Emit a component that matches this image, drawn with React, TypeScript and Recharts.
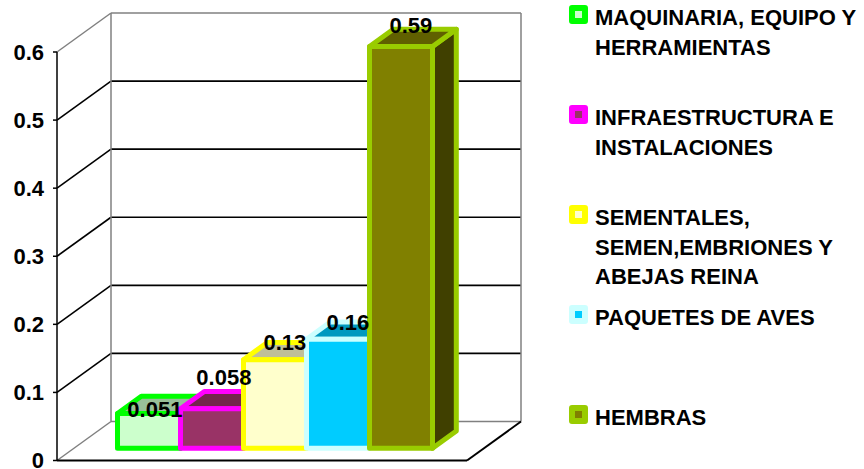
import { Bar, BarChart, CartesianGrid, LabelList, ReferenceArea, XAxis, YAxis } from "recharts";

const categories = ["Total"];
const seriesNames = [
  "MAQUINARIA, EQUIPO Y\nHERRAMIENTAS",
  "INFRAESTRUCTURA E\nINSTALACIONES",
  "SEMENTALES,\nSEMEN,EMBRIONES Y\nABEJAS REINA",
  "PAQUETES DE AVES",
  "HEMBRAS",
];
const seriesValues = [0.051, 0.058, 0.13, 0.16, 0.59];
const yTicks = [0, 0.1, 0.2, 0.3, 0.4, 0.5, 0.6];

const strokeColors = ["#00FF00", "#FF00FF", "#FFFF00", "#CCFFFF", "#99CC00"];
const fillColors = ["#CCFFCC", "#993366", "#FFFFCC", "#00CCFF", "#808000"];
// Excel moves some value labels around to keep them apart
const labelNudgeX = [-6, 0, -2, -2, -2];
const labelNudgeY = [13, -14, 0, 0, -4];

const FONT = '"Liberation Sans", Arial, sans-serif';

// oblique projection offsets
const WALL_DX = 54;
const WALL_DY = -39;
const BAR_SHIFT_X = 13.5;
const BAR_SHIFT_Y = -12.3;
const BAR_DX = 23.8;
const BAR_DY = -17.2;

const data = categories.map((name, c) => {
  const row: Record<string, string | number> = { name };
  seriesValues.forEach((v, i) => {
    row[`s${i}`] = c === 0 ? v : 0;
  });
  return row;
});

function shade(hex: string, k: number) {
  const n = parseInt(hex.slice(1), 16);
  const r = Math.round(((n >> 16) & 255) * k);
  const g = Math.round(((n >> 8) & 255) * k);
  const b = Math.round((n & 255) * k);
  return `rgb(${r},${g},${b})`;
}

function Box3D(props: any) {
  const { x, y, width, height, series } = props;
  if (width == null || height == null) return null;
  const x0 = x + BAR_SHIFT_X;
  const y0 = y + BAR_SHIFT_Y;
  const x1 = x0 + width;
  const y1 = y0 + height;
  const stroke = strokeColors[series];
  const fill = fillColors[series];
  const common = { stroke, strokeWidth: 5, strokeLinejoin: "round" as const };
  return (
    <g>
      <polygon
        points={`${x1},${y0} ${x1 + BAR_DX},${y0 + BAR_DY} ${x1 + BAR_DX},${y1 + BAR_DY} ${x1},${y1}`}
        fill={shade(fill, 0.5)}
        {...common}
      />
      <polygon
        points={`${x0},${y0} ${x0 + BAR_DX},${y0 + BAR_DY} ${x1 + BAR_DX},${y0 + BAR_DY} ${x1},${y0}`}
        fill={shade(fill, 0.75)}
        {...common}
      />
      <rect x={x0} y={y0} width={width} height={height} fill={fill} {...common} />
    </g>
  );
}

function ValueLabel(props: any) {
  const box = props.viewBox ?? props;
  const { x, y, width } = box;
  const { value, dx, dy } = props;
  if (x == null || y == null) return null;
  return (
    <text
      x={x + width / 2 + BAR_SHIFT_X + BAR_DX / 2 + dx}
      y={y + BAR_SHIFT_Y + BAR_DY + dy}
      textAnchor="middle"
      dominantBaseline="central"
      fontFamily={FONT}
      fontWeight={700}
      fontSize={22}
      fill="#000"
    >
      {value}
    </text>
  );
}

// inner gridlines: diagonal on the side wall plus the line on the back wall
function DepthGridLine(props: any) {
  const { x1, y1, x2, y2, y, height } = props;
  if (y != null && height != null && (Math.abs(y1 - y) < 0.5 || Math.abs(y1 - (y + height)) < 0.5)) {
    return <g />;
  }
  return (
    <g>
      <line x1={x1} y1={y1} x2={x1 + WALL_DX} y2={y1 + WALL_DY} stroke="#000" strokeWidth={1.6} />
      <line
        x1={x1 + WALL_DX}
        y1={y1 + WALL_DY}
        x2={x2 + WALL_DX}
        y2={y2 + WALL_DY}
        stroke="#000"
        strokeWidth={1.6}
      />
    </g>
  );
}

// walls and floor outline
function WallFrame(props: any) {
  const { x, y, width, height } = props;
  if (x == null) return null;
  const bx = x + WALL_DX;
  const by = y + WALL_DY;
  const grey = { stroke: "#808080", strokeWidth: 1.5 };
  const black = { stroke: "#000", strokeWidth: 2 };
  return (
    <g fill="none">
      <line x1={bx} y1={by} x2={bx + width} y2={by} {...grey} />
      <line x1={bx} y1={by} x2={bx} y2={by + height} {...grey} />
      <line x1={bx + width} y1={by} x2={bx + width} y2={by + height} {...grey} />
      <line x1={bx} y1={by + height} x2={bx + width} y2={by + height} {...grey} />
      <line x1={x} y1={y} x2={bx} y2={by} {...grey} />
      <line x1={x} y1={y + height} x2={bx} y2={by + height} {...grey} />
      <line x1={x} y1={y + height} x2={x + width} y2={y + height} {...black} />
      <line x1={x + width} y1={y + height} x2={bx + width} y2={by + height} {...black} />
    </g>
  );
}

function SeriesLegend() {
  return (
    <div style={{ position: "absolute", left: 569, top: 3, fontFamily: FONT }}>
      {seriesNames.map((name, i) => (
        <div key={name} style={{ height: 100, display: "flex", alignItems: "flex-start" }}>
          <span
            style={{
              width: 7,
              height: 7,
              border: `6px solid ${strokeColors[i]}`,
              background: fillColors[i],
              borderRadius: 3,
              marginTop: 2,
              marginRight: 7,
              flex: "none",
            }}
          />
          <span
            style={{
              whiteSpace: "pre-line",
              lineHeight: "29.5px",
              fontSize: 22,
              fontWeight: 700,
              color: "#000",
            }}
          >
            {name}
          </span>
        </div>
      ))}
    </div>
  );
}

export default function App() {
  return (
    <div
      style={{
        position: "absolute",
        left: 0,
        top: 0,
        width: 864,
        height: 469,
        overflow: "hidden",
        background: "#fff",
      }}
    >
      <BarChart
        width={864}
        height={469}
        data={data}
        margin={{ top: 52, right: 397, bottom: 8.5, left: 0 }}
        barCategoryGap={47}
        barGap={0}
      >
        <ReferenceArea y1={0} y2={0.6} ifOverflow="visible" shape={WallFrame} />
        <CartesianGrid vertical={false} horizontal={DepthGridLine} />
        <XAxis dataKey="name" hide />
        <YAxis
          width={57}
          domain={[0, 0.6]}
          ticks={yTicks}
          interval={0}
          axisLine={{ stroke: "#000", strokeWidth: 1.5 }}
          tickLine={{ stroke: "#000", strokeWidth: 1.5 }}
          tickSize={4}
          tickMargin={9}
          tick={{ fill: "#000", fontSize: 22, fontWeight: 700, fontFamily: FONT }}
        />
        {seriesValues.map((_, i) => (
          <Bar
            key={i}
            dataKey={`s${i}`}
            isAnimationActive={false}
            shape={(p: any) => <Box3D {...p} series={i} />}
          >
            <LabelList
              dataKey={`s${i}`}
              content={(p: any) => <ValueLabel {...p} dx={labelNudgeX[i]} dy={labelNudgeY[i]} />}
            />
          </Bar>
        ))}
      </BarChart>
      <SeriesLegend />
    </div>
  );
}
